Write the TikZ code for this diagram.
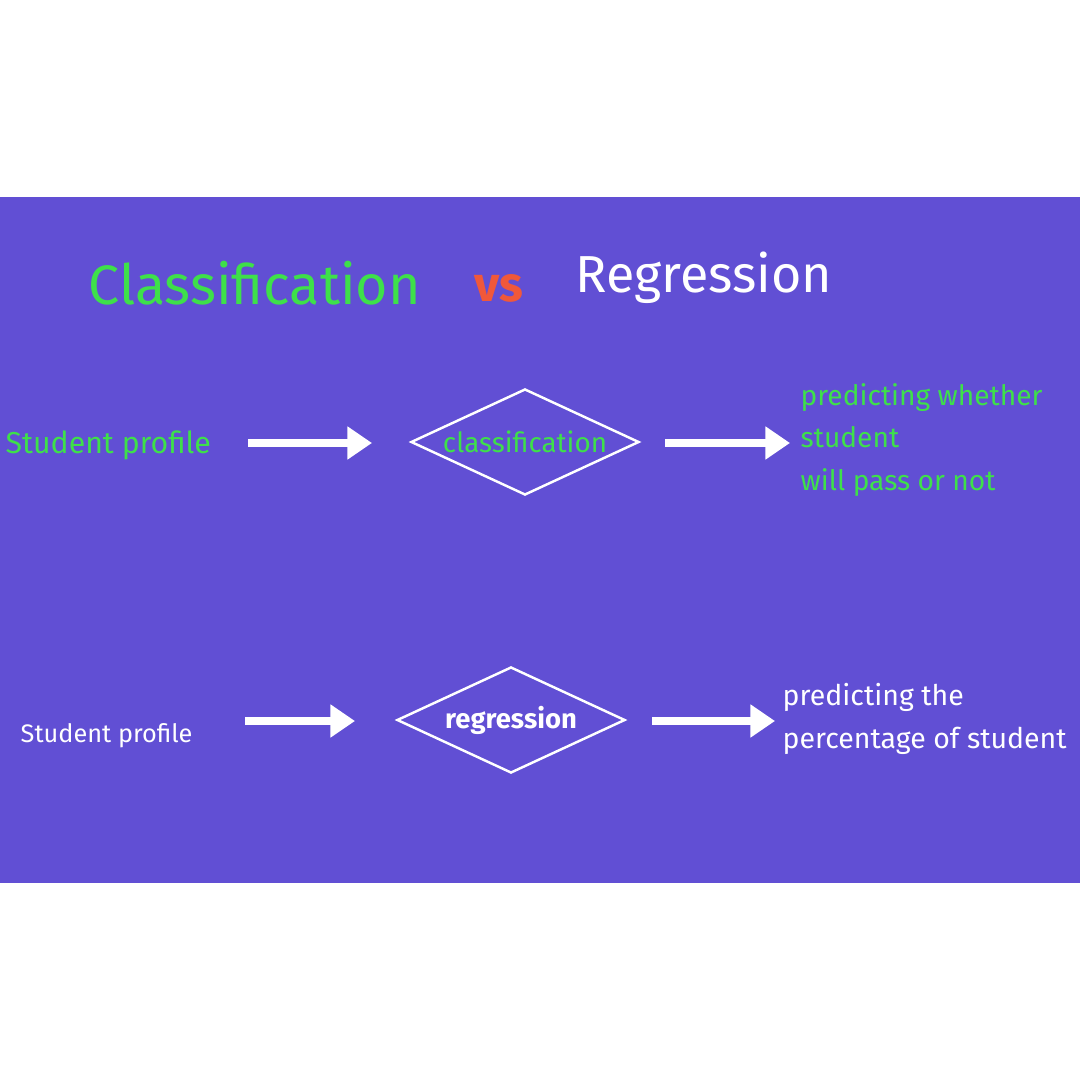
\documentclass[tikz,border=0pt]{standalone}
\usepackage{fontspec}
\setmainfont{Fira Sans}
\usetikzlibrary{shapes.geometric,arrows.meta}
\definecolor{band}{HTML}{614FD4}
\definecolor{lime}{HTML}{3EE04A}
\definecolor{vsred}{HTML}{F0583A}
\tikzset{
  txt/.style={inner sep=0pt, font=\fontsize{8.6}{11}\selectfont},
  box/.style={draw=white, line width=0.7pt, diamond, aspect=2.15, minimum width=2.28cm, minimum height=1.06cm, inner sep=0pt, font=\fontsize{7.9}{10}\selectfont},
  flow/.style={white, line width=2.2pt, -{Triangle[length=7pt,width=9pt]}}
}
\begin{document}
\begin{tikzpicture}[x=0.01cm,y=-0.01cm]
\useasboundingbox (0,0) rectangle (1080,1080);
\fill[band] (0,197) rectangle (1080,883);
% title
\node[txt, anchor=west, lime, font=\fontsize{15.8}{20}\selectfont] (cls) at (88,283) {Classification};
\node[txt, anchor=west, vsred, font=\fontsize{14}{18}\selectfont\bfseries] (vs) at (474,288) {vs};
\node[txt, anchor=west, white, font=\fontsize{14.8}{20}\selectfont] (reg) at (575,278) {Regression};
% classification row
\node[txt, anchor=west, lime] (in1) at (5,445) {Student profile};
\node[box, text=lime] (d1) at (525,442) {classification};
\node[txt, anchor=west, lime, align=left, font=\fontsize{8}{12.2}\selectfont] (out1) at (800,440) {predicting whether\\student\\will pass or not};
\coordinate (a1) at (248,443);
\coordinate (b1) at (372,443);
\coordinate (a2) at (665,443);
\coordinate (b2) at (790,443);
\draw[flow] (a1) -- (b1);
\draw[flow] (a2) -- (b2);
% regression row
\node[txt, anchor=west, white, font=\fontsize{7.2}{9}\selectfont] (in2) at (20,736) {Student profile};
\node[box, text=white, font=\fontsize{7.8}{10}\selectfont\bfseries] (d2) at (511,720) {regression};
\node[txt, anchor=west, white, align=left, font=\fontsize{8.1}{12}\selectfont] (out2) at (782,719) {predicting the\\percentage of student};
\coordinate (a3) at (245,721);
\coordinate (b3) at (355,721);
\coordinate (a4) at (652,721);
\coordinate (b4) at (775,721);
\draw[flow] (a3) -- (b3);
\draw[flow] (a4) -- (b4);
\end{tikzpicture}
\end{document}
